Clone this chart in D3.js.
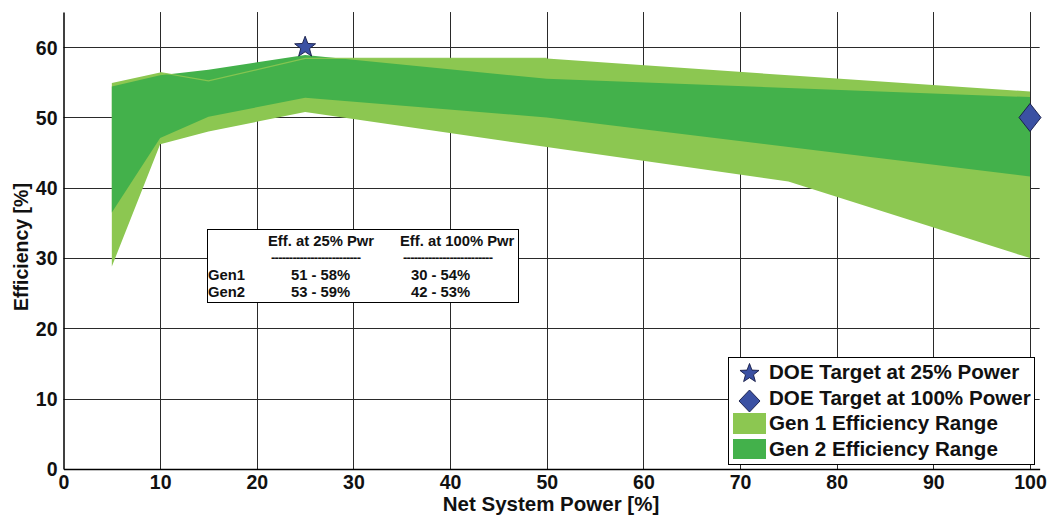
<!DOCTYPE html>
<html>
<head>
<meta charset="utf-8">
<script src="https://cdn.jsdelivr.net/npm/d3@7"></script>
<style>
  html, body { margin: 0; padding: 0; background: #fff; }
  svg { display: block; font-family: "Liberation Sans", Arial, sans-serif; font-weight: bold; }
</style>
</head>
<body>
<svg id="chart" width="1047" height="516"></svg>
<script>
// ---- data ----
const gen1X     = [5, 10, 15, 25, 50, 75, 100];
const gen1Upper = [54.9, 56.4, 55.2, 58.4, 58.4, 56.0, 53.7];
const gen1Lower = [28.8, 46.2, 48.0, 50.8, 45.8, 40.9, 30.0];

const gen2X     = [5, 10, 15, 25, 50, 100];
const gen2Upper = [54.4, 56.0, 56.8, 58.9, 55.5, 52.9];
const gen2Lower = [36.5, 47.1, 50.1, 52.8, 50.0, 41.6];

const targetX      = [25, 100];
const targetY      = [60, 50];
const targetShapes = ["star", "diamond"];

const xTicks = [0, 10, 20, 30, 40, 50, 60, 70, 80, 90, 100];
const yTicks = [0, 10, 20, 30, 40, 50, 60];

const legendLabels = ["DOE Target at 25% Power", "DOE Target at 100% Power",
                      "Gen 1 Efficiency Range", "Gen 2 Efficiency Range"];

const tableHeaders = ["Eff. at 25% Pwr", "Eff. at 100% Pwr"];
const tableRows    = ["Gen1", "Gen2"];
const tableValues  = [["51 - 58%", "30 - 54%"], ["53 - 59%", "42 - 53%"]];

// ---- styles ----
const GEN1 = "#8cc751";
const GEN2 = "#43b14b";
const MARK = "#3b51a3";

const svg = d3.select("#chart");
const x = d3.scaleLinear().domain([0, 101]).range([63.5, 63.5 + 9.665 * 101]);
const y = d3.scaleLinear().domain([0, 65]).range([469, 469 - 7.03 * 65]);

// grid
const grid = svg.append("g");
grid.selectAll("line.vx").data(xTicks.filter(d => d > 0)).join("line")
  .attr("x1", d => Math.round(x(d)) + 0.5).attr("x2", d => Math.round(x(d)) + 0.5)
  .attr("y1", y(65)).attr("y2", y(0))
  .attr("stroke", "#2a2a2a").attr("stroke-width", 1);
grid.selectAll("line.hy").data(yTicks.filter(d => d > 0)).join("line")
  .attr("x1", x(0)).attr("x2", x(101))
  .attr("y1", d => Math.round(y(d)) + 0.5).attr("y2", d => Math.round(y(d)) + 0.5)
  .attr("stroke", "#2a2a2a").attr("stroke-width", 1);

// bands
const g1 = gen1X.map((v, i) => ({x: v, lo: gen1Lower[i], hi: gen1Upper[i]}));
const g2 = gen2X.map((v, i) => ({x: v, lo: gen2Lower[i], hi: gen2Upper[i]}));
const area = d3.area().x(d => x(d.x)).y0(d => y(d.lo)).y1(d => y(d.hi));
svg.append("path").datum(g1).attr("d", area).attr("fill", GEN1);
svg.append("path").datum(g2).attr("d", area).attr("fill", GEN2);
// faint Gen1 upper edge visible through Gen2
svg.append("path").datum(g1.slice(1, 5))
  .attr("d", d3.line().x(d => x(d.x)).y(d => y(d.hi)))
  .attr("fill", "none").attr("stroke", GEN1).attr("stroke-width", 1.2).attr("opacity", 0.9);

// axes
const xAxis = d3.axisBottom(x).tickValues(xTicks).tickSize(0).tickPadding(8).tickFormat(d3.format("d"));
const yAxis = d3.axisLeft(y).tickValues(yTicks).tickSize(0).tickPadding(6).tickFormat(d3.format("d"));
const gx = svg.append("g").attr("transform", `translate(0,${y(0)})`).call(xAxis);
const gy = svg.append("g").attr("transform", `translate(${x(0)},0)`).call(yAxis);
[gx, gy].forEach(g => {
  g.select(".domain").attr("stroke", "#000").attr("stroke-width", 1.5);
  g.selectAll("text").attr("font-family", "Liberation Sans, Arial, sans-serif")
    .attr("font-weight", "bold").attr("font-size", 19.5).attr("fill", "#111");
});
gx.selectAll(".tick text").attr("dy", "0.75em").attr("y", 5);
gy.selectAll(".tick text").attr("dy", "0.35em").attr("x", -6);

// axis titles
svg.append("text").attr("x", 551).attr("y", 511).attr("text-anchor", "middle")
  .attr("font-size", 20.5).attr("fill", "#111").text("Net System Power [%]");
svg.append("text").attr("transform", "translate(28,247) rotate(-90)").attr("text-anchor", "middle")
  .attr("font-size", 19.5).attr("fill", "#111").text("Efficiency [%]");

// marker shapes
function starPath(cx, cy, R) {
  const r = R * 0.42, pts = [];
  for (let i = 0; i < 10; i++) {
    const a = -Math.PI / 2 + i * Math.PI / 5, rr = i % 2 ? r : R;
    pts.push([cx + rr * Math.cos(a), cy + rr * Math.sin(a)]);
  }
  return "M" + pts.map(p => p.join(",")).join("L") + "Z";
}
function diamondPath(cx, cy, w, h) {
  return `M${cx},${cy - h}L${cx + w},${cy}L${cx},${cy + h}L${cx - w},${cy}Z`;
}
targetX.forEach((tx, i) => {
  const cx = x(tx), cy = y(targetY[i]);
  svg.append("path")
    .attr("d", targetShapes[i] === "star" ? starPath(cx, cy, 11) : diamondPath(cx, cy, 11, 14))
    .attr("fill", MARK).attr("stroke", "#141a45").attr("stroke-width", 0.9);
});

// summary table
const tb = svg.append("g");
tb.append("rect").attr("x", 207.5).attr("y", 229.5).attr("width", 311).attr("height", 73)
  .attr("fill", "#fff").attr("stroke", "#000").attr("stroke-width", 1);
const colX = [268, 400];
tableHeaders.forEach((h, i) => {
  tb.append("text").attr("x", colX[i]).attr("y", 246).attr("font-size", 14.8).attr("fill", "#111").text(h);
  tb.append("text").attr("x", colX[i] + 3).attr("y", 262).attr("font-size", 13)
    .attr("textLength", 90).attr("lengthAdjust", "spacing").attr("fill", "#111")
    .text("-------------------------");
});
const rowY = [280, 297];
const valX = [291, 411];
tableRows.forEach((r, j) => {
  tb.append("text").attr("x", 208).attr("y", rowY[j]).attr("font-size", 14.8).attr("fill", "#111").text(r);
  tableValues[j].forEach((v, i) => {
    tb.append("text").attr("x", valX[i]).attr("y", rowY[j]).attr("font-size", 14.8).attr("fill", "#111").text(v);
  });
});

// legend
const lg = svg.append("g");
lg.append("rect").attr("x", 728.5).attr("y", 357.5).attr("width", 306).attr("height", 107)
  .attr("fill", "#fff").attr("stroke", "#000").attr("stroke-width", 1);
const legY = [379, 405, 430, 456];
lg.append("path").attr("d", starPath(749.5, 373.5, 10)).attr("fill", MARK).attr("stroke", "#141a45").attr("stroke-width", 0.9);
lg.append("path").attr("d", diamondPath(749.5, 401, 10.5, 11)).attr("fill", MARK).attr("stroke", "#141a45").attr("stroke-width", 0.9);
lg.append("rect").attr("x", 733).attr("y", 413).attr("width", 33).attr("height", 21).attr("fill", GEN1);
lg.append("rect").attr("x", 733).attr("y", 439).attr("width", 33).attr("height", 20).attr("fill", GEN2);
legendLabels.forEach((t, i) => {
  lg.append("text").attr("x", 769).attr("y", legY[i]).attr("font-size", 20.6).attr("fill", "#111").text(t);
});
</script>
</body>
</html>
